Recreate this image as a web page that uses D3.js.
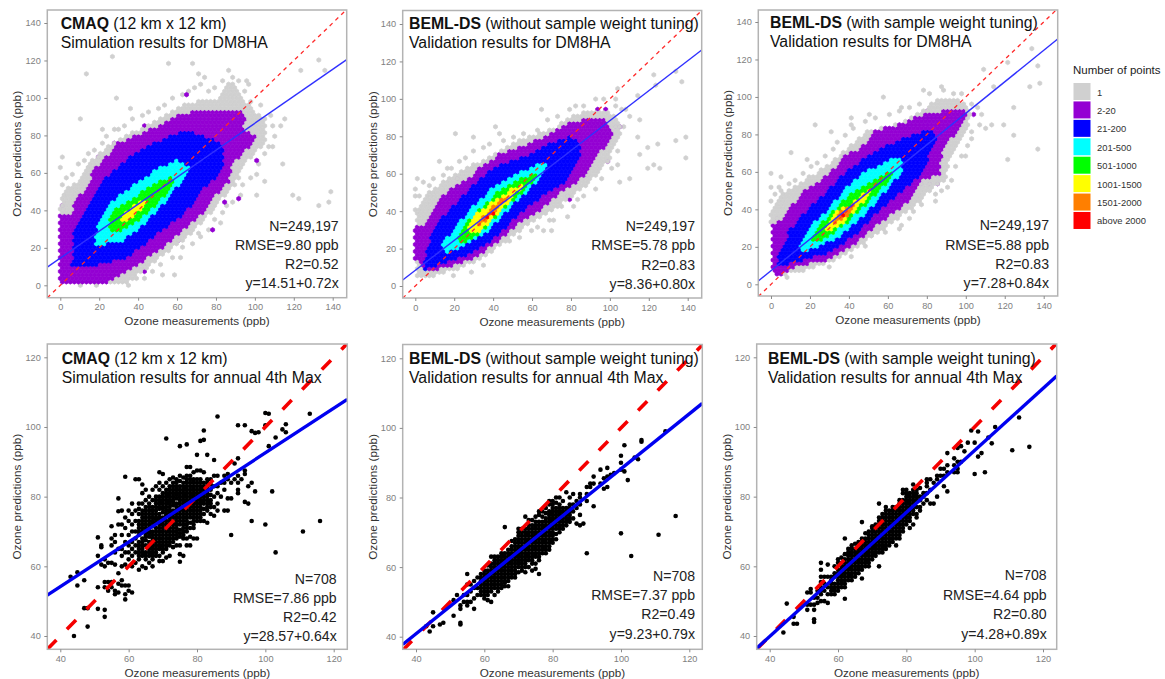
<!DOCTYPE html>
<html>
<head>
<meta charset="utf-8">
<script src="https://cdn.jsdelivr.net/npm/d3@7"></script>
<style>
  html, body { margin: 0; background: #fff; }
  svg { display: block; }
  text { font-family: "Liberation Sans", Arial, sans-serif; }
</style>
</head>
<body>
<svg width="1165" height="679"></svg>
<script>
// legend
const levelLabels = ['1','2-20','21-200','201-500','501-1000','1001-1500','1501-2000','above 2000'];
const levelColors = ['#d0d0d0','#9400d3','#0000ff','#00ffff','#00ff00','#ffff00','#ff7f00','#ff0000'];

const topTicks = [0,20,40,60,80,100,120,140];
const bottomTicks = [40,60,80,100,120];

const cmaqGray = [[0,1],[0,44],[3,50],[8,55],[12,62],[18,69],[24,74],[32,79],[44,85],[52,90],[60,95],[72,99],[82,100],[86,108],[90,108],[93,100],[100,94],[106,84],[105,76],[100,70],[92,62],[90,54],[82,45],[76,37],[66,26],[54,17],[44,9],[36,2],[30,0]];
const cmaqPurple = [[0,1],[0,37],[6,38],[8,46],[14,53],[17,62],[24,69],[29,76],[43,82],[50,85],[60,91],[72,94],[85,94],[96,92],[94,84],[101,80],[97,74],[89,65],[87,56],[79,47],[72,37],[62,28],[51,19],[41,12],[31,5],[24,1]];
const cmaqBlue = [[6,10],[7,24],[7,31],[14,42],[17,49],[24,58],[31,65],[38,70],[50,77],[62,82],[72,81],[82,76],[85,69],[82,60],[75,53],[67,42],[62,37],[53,30],[44,22],[34,15],[20,11],[10,10]];
const cmaqCyan = [[18,22],[19,33],[26,44],[34,51],[41,56],[51,63],[60,67],[67,63],[63,56],[56,47],[48,38],[41,31],[32,24],[22,22]];
const cmaqGreen = [[24,30],[27,40],[38,47],[46,53],[56,58],[60,56],[53,47],[44,38],[38,33],[29,28]];
const cmaqYellow = [[31,35],[36,42],[44,47],[45,44],[38,37],[33,34]];
const cmaqGrayDots = [[27,123],[13,112],[56,118],[68,118],[72,112],[72,108],[87,114],[95,110],[123,114],[133,120],[136,114],[115,89],[28,100],[36,95],[10,88],[0,69],[1,63],[2,49],[120,49],[123,47],[139,50],[139,44],[133,42],[115,65],[106,56],[101,49],[89,45],[58,6],[53,5],[51,17],[62,15],[72,28],[92,58],[109,74],[113,85],[106,88],[97,108],[75,111],
  [2,47],[1,54],[3,58],[5,52],[7,60],[9,64],[12,67],[15,70],[14,63],[18,73],[21,76],[24,79],[22,83],[27,84],[30,83],[33,86],[38,88],[42,90],[46,92],[50,94],[54,96],[58,100],[62,102],[66,104],[70,105],[76,104],[80,106],[84,110],[88,111],[91,110],[94,104],[98,98],[102,97],[108,90],[110,86],[110,80],[108,74],[106,70],[102,64],[97,58],[94,54],[92,48],[86,43],[84,38],[80,36],[76,30],[72,25],[68,22],[62,20],[58,14],[52,12],[48,8],[44,3],[40,4],[34,0],[18,0],[10,0],[100,60],[82,33]];
const cmaqPurpleDots = [[65,101.6],[91,47],[84,44],[79,30],[60,24],[43,7],[0,42],[3,37],[100,67],[43,86],[28,76],[19,69]];

const plainGray = [[1,4],[0,36],[2,44],[6,50],[12,54],[20,59],[28,64],[36,68],[44,73],[52,78],[60,80],[72,85],[80,91],[90,94],[100,93],[105,88],[106,82],[103,76],[100,68],[94,60],[88,54],[78,46],[70,40],[60,34],[52,28],[44,22],[34,15],[24,10],[12,6],[6,4]];
const plainPurple = [[0,14],[0,33],[6,33],[10,44],[19,53],[27,57],[34,64],[44,71],[58,76],[70,82],[80,88],[92,90],[97,89],[102,84],[99,76],[92,69],[89,60],[75,50],[65,41],[55,35],[44,25],[32,16],[19,11],[7,8]];
const plainBlue = [[4,10],[6,21],[12,35],[19,42],[27,51],[38,62],[46,66],[58,70],[68,76],[80,80],[85,76],[85,69],[79,57],[68,50],[58,42],[48,33],[38,23],[26,16],[14,12],[5,9]];
const plainCyan = [[14,23],[22,33],[29,42],[38,51],[46,57],[56,62],[67,67],[69,66],[65,58],[55,48],[46,39],[38,30],[27,23],[15,17]];
const plainGreen = [[22,25],[27,35],[34,42],[43,51],[53,57],[62,60],[62,58],[55,50],[46,42],[39,34],[31,26],[24,23]];
const plainYellow = [[26,30],[32,39],[41,46],[51,53],[56,55],[51,48],[44,41],[38,33],[31,28]];
const plainOrange = [[32,33],[38,41],[46,48],[48,48],[43,42],[37,35],[32,32]];
const plainRed = [[37,37],[40,41.5],[41,39],[37,35]];
const plainGrayDots = [[41,85],[43,82],[21,82],[30,79],[13,66],[19,62],[1.5,58],[65,94],[82,96],[103,106],[123,112],[133,114],[137,109],[123,108],[115,101],[115,80],[139,80],[134,77],[124,76],[120,74],[116,71],[139,68],[120,63],[125,62],[122,64],[110,57],[106,56],[70,29],[66,29],[53,26],[72,35],[79,37],[87,48],[103,64],[116,89],[109,94],[104,99],[1,48],
  [1,40],[3,48],[1,52],[4,56],[7,54],[10,58],[14,60],[17,63],[22,66],[26,68],[30,72],[34,74],[38,76],[46,78],[50,80],[56,82],[62,84],[68,88],[74,90],[80,94],[86,97],[92,100],[97,99],[102,96],[106,95],[110,91],[108,85],[104,72],[101,62],[96,58],[92,52],[84,47],[75,42],[68,36],[60,30],[48,24],[40,18],[36,12],[28,8],[20,6],[62,32],[82,42]];
const plainPurpleDots = [[21,57],[13,44],[94,95],[97,95],[104,85],[105,85],[99,67],[89,59],[79,46],[78,48],[58,39]];

const tunedGray = [[3,4],[0,30],[0,40],[4,46],[8,50],[16,54],[24,60],[32,66],[40,74],[50,82],[60,84],[70,88],[78,93],[84,98],[92,99],[100,97],[103,90],[100,82],[96,76],[92,68],[90,56],[82,50],[74,42],[64,34],[54,27],[44,19],[34,13],[22,9],[10,6]];
const tunedPurple = [[1,6],[0,31],[5,34],[10,41],[17,50],[30,59],[37,68],[46,73],[54,82],[68,86],[78,91],[92,93],[101,94],[100,88],[95,81],[88,73],[87,59],[78,56],[71,45],[63,38],[51,29],[41,20],[29,13],[11,9],[3,4]];
const tunedBlue = [[3,11],[4,18],[11,31],[20,41],[29,50],[37,59],[46,66],[56,73],[66,77],[78,82],[83,82],[85,79],[80,65],[75,57],[64,47],[54,38],[44,27],[32,18],[20,14],[6,10]];
const tunedCyan = [[15,22],[20,31],[29,40],[37,50],[46,59],[58,65],[65,68],[69,65],[65,57],[58,49],[47,36],[37,27],[25,20],[16,17]];
const tunedGreen = [[21,24],[27,34],[37,45],[46,52],[54,57],[61,61],[63,59],[56,50],[47,41],[37,31],[27,24]];
const tunedYellow = [[27,28],[32,38],[41,43],[49,50],[52,50],[44,40],[37,33],[30,29]];
const tunedOrange = [[31,33],[37,40],[42,43],[44,43],[39,36],[33,33]];
const tunedRed = [[36,36],[41,41],[37,35]];
const tunedGrayDots = [[58,100],[66,94],[50,91],[41,89],[41,86],[22,86],[30,82],[11,71],[18,66],[20,63],[0,59],[1,51],[5,57],[78,103],[87,105],[109,114],[121,118],[134,125],[136,116],[115,105],[124,94],[139,107],[133,106],[138,73],[121,66],[124,79],[120,86],[114,85],[111,84],[104,77],[100,69],[91,51],[85,45],[66,29],[52,25],[71,36],[78,42],[109,91],
  [1,44],[2,48],[4,52],[6,50],[9,54],[12,56],[16,60],[20,58],[24,64],[28,68],[32,72],[35,76],[39,79],[43,83],[48,87],[54,88],[60,90],[66,92],[72,94],[76,97],[82,101],[88,103],[93,102],[98,101],[103,97],[106,94],[107,86],[103,82],[100,74],[97,68],[94,62],[93,55],[88,50],[84,48],[74,38],[66,32],[58,28],[48,20],[42,14],[30,10],[16,7],[8,3]];
const tunedPurpleDots = [[80,92],[17,50],[4,36],[81,53],[85,53],[77,54],[51,29],[103,91]];

// annual 4th max points, one entry per measured value: [measured, [predicted...]]
const cmaqAnnual = [[43,[57]],[44,[40]],[45,[54.5,58.3]],[47,[48,56]],[48,[42.7,48]],[51,[47.8,54,63,68.3]],[52,[60.5,65.5,66]],[53,[45.5,47.5,54,55.5,60,62]],[54,[53,55.5,61]],[55,[54,55.5,61,66,68,71.5]],[56,[52,53,60.5,64,67,69]],[57,[52.5,55,58,65,72,75.8,79.5]],[58,[54.5,56,60,63,65,69,72,76]],[59,[50.5,52,54.5,60.5,64,67,71,74,85.7]],[60,[53,54.5,62,64,66,69,73,76]],[61,[52.5,60,63,65,67,70,72,75,78]],[62,[61,64,66,68,70,73,76,85]],[63,[59,62,64,65,67,69,71,73,75,78,85]],[64,[60,63,65,66,68,70,72,74,76,78,81,83.5]],[65,[59.5,62,64,66,67.5,69,71,73,75,77,79,82]],[66,[61,63,65,67,68.5,70,72,74,76,78,80]],[67,[60,62,64,66,68,70,71.5,73,75,77,79,82]],[68,[63,65,67,69,71,72.5,74,76,78,80,83]],[69,[61.5,65,67,69,71,73,75,76.5,78,80,82,84,87]],[70,[61.5,64,66,68,70,72,74,75.5,77,79,81,83,86.5]],[71,[62.5,65,67,69,71,73,74.5,76,78,80,82,84,96.7]],[72,[63,66,68,70,72,74,75.5,77,79,81,83,85]],[73,[65.5,68,70,72,74,76,77.5,79,81,83,85.5]],[74,[66,68,70,72,74,76,78,79.5,81,83,85]],[75,[61.3,63.5,66,68.5,70.5,73,75,77,79,81,83,84.5,86,94.5]],[76,[63,68,70,72,74,76,78,80,82,84,85.5]],[77,[66,68,70,72,74,76,78,80,82,84,86,88.5,95]],[78,[66,68.5,71,74,76,78,80,82,84,86,88.5]],[79,[68,71,73,75,77,79,81,83,85,87]],[80,[68,73,75,77,79,81,83,85,87.5,92]],[81,[73,75,77,79,81,83,85,87.5,96]],[82,[73,75,78,80,82,84,87,96.3,99]],[83,[72.5,76,78,80,82,84,92]],[84,[75,77,79,82,85]],[85,[74.5,77,80,83,86,90.5]],[86,[76,78,81,83,86,103]],[87,[80,84]],[88,[76,82,84,86]],[89,[76,79.5,85,86.5]],[90,[69,79.5,84]],[91,[85,89.5]],[92,[81,82,84,86,91,100.5]],[93,[85]],[94,[78.5,86.5,87.5,100.5]],[95,[78,83]],[96,[73,84,98.8]],[97,[81.5,98.3]],[98,[98.5]],[100,[72,100.5,104]],[101,[94.5,103.8]],[102,[81.5]],[103,[64,97]],[105,[99.3]],[106,[98.5,100.8]],[111,[70]],[113,[103.8]],[116,[73]]];
const cmaqAnnualDense = [[63,[63,66,70,72,76.5]],[64,[64,67,71,73,75]],[65,[63,68.5,70,72,74,76]],[66,[64,66,69.5,71,73,75,77]],[67,[63,65,67,69,72.5,74,76]],[68,[64,66,68,70,73.5,75,77,79]],[69,[63,66,68,70,72,74,77,79]],[70,[65,67,69,71,73,76.5,78,80]],[71,[66,68,70,72,75,77,79,81]],[72,[67,69,71,73,76,78,80,82]],[73,[67,69,71,73,75,78.5,80,82,84]],[74,[69,71,73,75,77,80.5,82,84]],[75,[69.5,72,74,76,78,80,82]],[76,[69,71,73,75,77,79,81,83]],[77,[71,73,75,77,79,81,83,85]],[78,[72.5,75,77,79,81,83,85]],[79,[72,74,76,78,80,82,84]],[80,[74,76,78,80,82,84]],[81,[74,76,78,80,82,84]],[82,[76.5,79,81,83]],[83,[77,79,81,83,85]],[84,[78,80.5,83.5]]];

const plainAnnual = [[43,[43]],[44,[41.5]],[45,[43,47]],[47,[43.5]],[48,[44]],[51,[46,50.5]],[52,[52]],[53,[43.5,44,48,49]],[54,[50,52]],[55,[49,50,52,55,58]],[56,[50,53,55]],[57,[48,51,54,56]],[58,[52,54,57]],[59,[52,54,56,58]],[60,[51,53,55,57,59]],[61,[50.5,53,55,57,59,60.5]],[62,[50,54,56,58,60,63]],[63,[52,55,57,59,61,63]],[64,[53,55,57,59,61,63]],[65,[54,56,58,60,62,64]],[66,[54.5,56,58,60,62,64,71.5]],[67,[54.5,57,59,61,63,65]],[68,[58,60,62,64,66,67.5]],[69,[58,60,62,64,66,68]],[70,[58.5,61,63,65,67,69,71]],[71,[60,62,64,66,68,70]],[72,[58.5,61,63,65,67,69,71,74.5]],[73,[60,63,65,67,69,71,73.5]],[74,[59,62,64,66,68,70,72]],[75,[59.5,63,65,67,69,71,73]],[76,[58,62,64,66,68,70,72,76]],[77,[65,67,69,71,73,76]],[78,[66,68,70,72,74,77]],[79,[66,68,70,72,74,76,79]],[80,[68,70,72,74,76,79]],[81,[68,71,73,75,77,80]],[82,[70,72,74,76]],[83,[71,73,75,77]],[84,[72,74,76,81.5]],[85,[74,76,78]],[86,[76,81]],[87,[72.5,77,79]],[88,[72,75,78,80,81]],[89,[72.5]],[90,[64,79,81,83]],[91,[83,84]],[92,[77.5,84,86]],[94,[84,88]],[95,[82.5,85.5]],[96,[83,86,88.5]],[97,[86.5]],[98,[87]],[100,[69.7,88,90,92]],[101,[87.5,95]],[102,[85]],[103,[63.2]],[104,[91.5]],[105,[91]],[106,[96,96.5]],[111,[69.3]],[113,[99]],[116,[74.7]]];
const plainAnnualDense = [[59,[53,55,57]],[60,[52,54,56,58]],[61,[52,54,56,58]],[62,[53,55,57,59,61]],[63,[54,56,58,60,62]],[64,[54,56,58,60,62]],[65,[55,57,59,61,63]],[66,[55.5,57,59,61,63]],[67,[56,58,60,62,64]],[68,[57,59,61,63,65]],[69,[57,59,61,63,65,67]],[70,[60,62,64,66,68,70]],[71,[59,61,63,65,67,69,71]],[72,[60,62,64,66,68,70]],[73,[62,64,66,68,70,72]],[74,[61,63,65,67,69,71,73.5]],[75,[61,64,66,68,70,72,74.5]],[76,[63,65,67,69,71,73,75]],[77,[64,66,68,70,72,74.5]],[78,[64,65,67,69,71,73,75.5]],[79,[65,67,69,71,73,75,78]],[80,[67,69,71,73,75,77,78]],[81,[69.5,72,74,76,78.5]],[82,[71,73,75,77,78,80]],[83,[72,74,76,79]],[84,[73,75,77]],[85,[73,75,77,80]],[86,[74,78]]];

const tunedAnnual = [[44,[41]],[45,[49.3]],[47,[43.5,45.5]],[48,[43.5]],[51,[47.5,49,52.5]],[52,[49,52.5,53.5]],[53,[44,44.8,47.5,49,51]],[54,[49.5,51,53]],[55,[50,52,54,57,59,61]],[56,[50,53,55,57]],[57,[49.5,52,54,57,60.5]],[58,[52,54,56]],[59,[52,54,57]],[60,[53,55,57,59,62]],[61,[54,56,58,60,62.5]],[62,[50.7,54,56,58,60,62,68]],[63,[56,58,60,62,64]],[64,[56,58,60,62,64,66]],[65,[57,59,61,63,65]],[66,[58,60,62,64,66]],[67,[56.5,59,61,63,65,67,72.7]],[68,[60,62,64,66,68]],[69,[60,62,64,66,68,70]],[70,[62,64,66,68,70,71]],[71,[63,65,67,69,71]],[72,[60,64,66,68,70,72,74,78]],[73,[65,67,69,71,73,75]],[74,[66,68,70,72,74,76,77]],[75,[66,68,70,72,74]],[76,[68,70,72,74,76]],[77,[66,68,70,72,74,76]],[78,[68,70,72,74,76,78]],[79,[70,72,74,76,78,82]],[80,[72,74,76,78,80,82]],[81,[71,74,76,78,80]],[82,[72,76,78,80,83.5]],[83,[74,79,82]],[84,[76,80]],[85,[80]],[86,[79,83,85]],[87,[78,82,85]],[88,[78,84]],[89,[80,85,86]],[90,[86,88]],[91,[83,86,88]],[92,[81.5,87,89,92.5]],[94,[87,89,91]],[95,[87,88,90,94]],[96,[90,94.5]],[97,[93]],[98,[95.5]],[99,[99]],[100,[86.5,95.5]],[101,[91.5,98.7]],[102,[92.5]],[103,[87]],[104,[97]],[105,[95.3]],[106,[100]],[111,[93.3]],[113,[102.7]],[116,[94.3]]];
const tunedAnnualDense = [[55,[53,55.5]],[58,[53,55,57]],[59,[53,55,58,60]],[60,[54,56,58,61]],[61,[55,57,59,61]],[62,[55,57,59,61,63.5]],[63,[57,59,61,63,65]],[64,[57,59,61,63,65]],[65,[58,60,62,64,66.5]],[66,[59,61,63,65,67]],[67,[60,62,64,66,68]],[68,[61,63,65,67,69.5]],[69,[61,63,65,67,69]],[70,[63,65,67,69,71.5]],[71,[64,66,68,70,72]],[72,[65,67,69,71,73]],[73,[64,66,68,70,72,74]],[74,[65,67,69,71,73,75]],[75,[67,69,71,73,75,76]],[76,[67,69,71,73,75,77]],[77,[69,71,73,75,77]],[78,[69,71,73,75,77,79]],[79,[71,73,75,77,79,81]],[80,[73,75,77,79,81]],[81,[73,75,77,79,81]],[82,[75,77,79,81,82]],[83,[75,77,80,81]],[84,[77,79,82.5]],[85,[78,81]],[86,[81,84]]];

// layout: box of each panel and the pixel position of the first and last tick
const panels = [
  {box:[47.3,346.7,10,297.7], px:[60.3,332.7], py:[285.3,23], ticks:topTicks,
   title:['CMAQ',' (12 km x 12 km)','Simulation results for DM8HA'], tx:60.7, ty:[29,48],
   note:['N=249,197','RMSE=9.80 ppb','R2=0.52','y=14.51+0.72x'], nx:338.7, ny:[230.7,249.7,269,288],
   fit:[14.51,0.72], bands:[cmaqGray,cmaqPurple,cmaqBlue,cmaqCyan,cmaqGreen,cmaqYellow], gray:cmaqGrayDots, purple:cmaqPurpleDots},
  {box:[402.7,701.7,10.5,298], px:[415.3,687.7], py:[286,24], ticks:topTicks,
   title:['BEML-DS',' (without sample weight tuning)','Validation results for DM8HA'], tx:409, ty:[29,48],
   note:['N=249,197','RMSE=5.78 ppb','R2=0.83','y=8.36+0.80x'], nx:695, ny:[231,250,269.5,288.5],
   fit:[8.36,0.80], bands:[plainGray,plainPurple,plainBlue,plainCyan,plainGreen,plainYellow,plainOrange,plainRed], gray:plainGrayDots, purple:plainPurpleDots},
  {box:[758.3,1057.7,10,296], px:[771,1043.7], py:[284.3,22], ticks:topTicks,
   title:['BEML-DS',' (with sample weight tuning)','Validation results for DM8HA'], tx:770, ty:[28,47],
   note:['N=249,197','RMSE=5.88 ppb','R2=0.83','y=7.28+0.84x'], nx:1049, ny:[230,249.5,269,288],
   fit:[7.28,0.84], bands:[tunedGray,tunedPurple,tunedBlue,tunedCyan,tunedGreen,tunedYellow,tunedOrange,tunedRed], gray:tunedGrayDots, purple:tunedPurpleDots},
  {box:[47.3,347.3,344,649.3], px:[60.3,333.7], py:[636,357.3], ticks:bottomTicks,
   title:['CMAQ',' (12 km x 12 km)','Simulation results for annual 4th Max'], tx:61.7, ty:[364,383],
   note:['N=708','RMSE=7.86 ppb','R2=0.42','y=28.57+0.64x'], nx:336.7, ny:[584,603,622,641],
   fit:[28.57,0.64], points:cmaqAnnual.concat(cmaqAnnualDense)},
  {box:[402.7,702.3,344.5,649.3], px:[416,689.3], py:[636.7,358.3], ticks:bottomTicks,
   title:['BEML-DS',' (without sample weight tuning)','Validation results for annual 4th Max'], tx:409, ty:[364,383],
   note:['N=708','RMSE=7.37 ppb','R2=0.49','y=9.23+0.79x'], nx:695, ny:[581,600,619,638.5],
   fit:[9.23,0.79], points:plainAnnual.concat(plainAnnualDense)},
  {box:[756.7,1056.7,344,649.3], px:[769.7,1043], py:[636,357.3], ticks:bottomTicks,
   title:['BEML-DS',' (with sample weight tuning)','Validation results for annual 4th Max'], tx:768, ty:[364,383],
   note:['N=708','RMSE=4.64 ppb','R2=0.80','y=4.28+0.89x'], nx:1046.7, ny:[580,600,619,638.5],
   fit:[4.28,0.89], points:tunedAnnual.concat(tunedAnnualDense)}
];

const svg = d3.select('svg');

// the reference is a slightly soft scan
svg.append('filter').attr('id','soft').append('feGaussianBlur').attr('stdDeviation',0.45);

// hex grid spacing in ppb
const hexDx = 2.06, hexDy = 1.85;

function hexPath(cx, cy, w, h){
  const a = w/2, b = h*2/3;
  return `M${cx},${cy-b}L${cx+a},${cy-b/2}L${cx+a},${cy+b/2}L${cx},${cy+b}L${cx-a},${cy+b/2}L${cx-a},${cy-b/2}Z`;
}

// snap a value pair onto the hex grid
function snap(p){
  const j = Math.round(p[1]/hexDy);
  const off = j%2 ? hexDx/2 : 0;
  return [Math.round((p[0]-off)/hexDx)*hexDx+off, j*hexDy];
}

function hexCells(p){
  const cells = [];
  d3.range(0,71).forEach(j => {
    const off = j%2 ? hexDx/2 : 0;
    d3.range(-1,72).forEach(i => {
      const c = [i*hexDx+off, j*hexDy];
      let level = -1;
      p.bands.forEach((poly,k) => { if(d3.polygonContains(poly,c)) level = k; });
      if(level>=0) cells.push({c:c, level:level});
    });
  });
  // single outlying hexes go under the regions
  const extras = p.gray.map(d => ({c:snap(d), level:0})).concat(p.purple.map(d => ({c:snap(d), level:1})));
  return extras.concat(cells);
}

panels.forEach((p,idx) => {
  const [l,r,t,b] = p.box;
  const first = p.ticks[0], last = p.ticks[p.ticks.length-1];
  const x = d3.scaleLinear().domain([first,last]).range(p.px);
  const y = d3.scaleLinear().domain([first,last]).range(p.py);
  const g = svg.append('g');

  svg.append('clipPath').attr('id','clip'+idx).append('rect')
     .attr('x',l).attr('y',t).attr('width',r-l).attr('height',b-t);
  const marks = g.append('g').attr('clip-path',`url(#clip${idx})`)
     .append('g').attr('filter','url(#soft)');

  if(p.bands){
    const w = Math.abs(x(hexDx)-x(0)), h = Math.abs(y(hexDy)-y(0));
    marks.selectAll('path.hex').data(hexCells(p)).join('path')
      .attr('class','hex')
      .attr('d',d => hexPath(x(d.c[0]),y(d.c[1]),w,h))
      .attr('fill',d => levelColors[d.level])
      .attr('stroke',d => levelColors[d.level])
      .attr('stroke-width',0.7);
  } else {
    const pts = p.points.flatMap(d => d[1].map(v => [d[0],v]));
    marks.selectAll('circle').data(pts).join('circle')
      .attr('cx',d => x(d[0])).attr('cy',d => y(d[1])).attr('r',2.3)
      .attr('fill','#000');
  }

  // 1:1 line and fitted line
  const xs = [x.invert(l),x.invert(r)];
  const line = d3.line().x(d => x(d[0])).y(d => y(d[1]));
  const thick = !p.bands;
  marks.append('path')
    .attr('d',line(xs.map(v => [v,v])))
    .attr('fill','none').attr('stroke',thick ? '#f50000' : '#ff2a2a')
    .attr('stroke-width',thick ? 3.6 : 1.3)
    .attr('stroke-dasharray',thick ? '13,15' : '4,4');
  marks.append('path')
    .attr('d',line(xs.map(v => [v,p.fit[0]+p.fit[1]*v])))
    .attr('fill','none').attr('stroke',thick ? '#0000f0' : '#3030ff')
    .attr('stroke-width',thick ? 3.4 : 1.4);

  g.append('rect').attr('x',l).attr('y',t).attr('width',r-l).attr('height',b-t)
    .attr('fill','none').attr('stroke','#b3b3b3').attr('stroke-width',1.5);

  // axes
  const ax = g.append('g').attr('transform',`translate(0,${b})`)
    .call(d3.axisBottom(x).tickValues(p.ticks).tickSize(3).tickPadding(3));
  const ay = g.append('g').attr('transform',`translate(${l},0)`)
    .call(d3.axisLeft(y).tickValues(p.ticks).tickSize(3).tickPadding(3.5));
  [ax,ay].forEach(a => {
    a.select('.domain').remove();
    a.selectAll('line').attr('stroke','#8a8a8a');
    a.selectAll('text').attr('fill','#808080').style('font-size','9.2px');
  });

  const midX = (l+r)/2, midY = (t+b)/2;
  g.append('text').attr('x',midX).attr('y',b+27.5)
    .attr('text-anchor','middle').attr('fill','#333').style('font-size','11.7px')
    .text('Ozone measurements (ppb)');
  g.append('text').attr('transform',`translate(${l-30},${midY}) rotate(-90)`)
    .attr('y',4).attr('text-anchor','middle').attr('fill','#333').style('font-size','11.8px')
    .text('Ozone predictions (ppb)');

  // panel title
  const head = g.append('text').attr('x',p.tx).attr('y',p.ty[0]).attr('fill','#111').style('font-size','15.8px');
  head.append('tspan').attr('font-weight','bold').text(p.title[0]);
  head.append('tspan').text(p.title[1]);
  g.append('text').attr('x',p.tx).attr('y',p.ty[1]).attr('fill','#111').style('font-size','15.8px').text(p.title[2]);

  // statistics
  g.selectAll('text.note').data(p.note).join('text')
    .attr('class','note').attr('x',p.nx).attr('y',(d,i) => p.ny[i])
    .attr('text-anchor','end').attr('fill','#222').style('font-size','14.1px')
    .text(d => d);
});

// legend
const legend = svg.append('g');
legend.append('text').attr('x',1073).attr('y',74).attr('fill','#222').style('font-size','11.5px').text('Number of points');
const item = d3.scaleBand().domain(levelLabels).range([83,230.4]);
legend.selectAll('rect').data(levelLabels).join('rect')
  .attr('x',1073.5).attr('y',d => item(d)).attr('width',17).attr('height',17)
  .attr('fill',(d,i) => levelColors[i]);
legend.selectAll('text.lab').data(levelLabels).join('text')
  .attr('class','lab').attr('x',1097).attr('y',d => item(d)+12.5)
  .attr('fill','#333').style('font-size','9.4px').text(d => d);
</script>
</body>
</html>
